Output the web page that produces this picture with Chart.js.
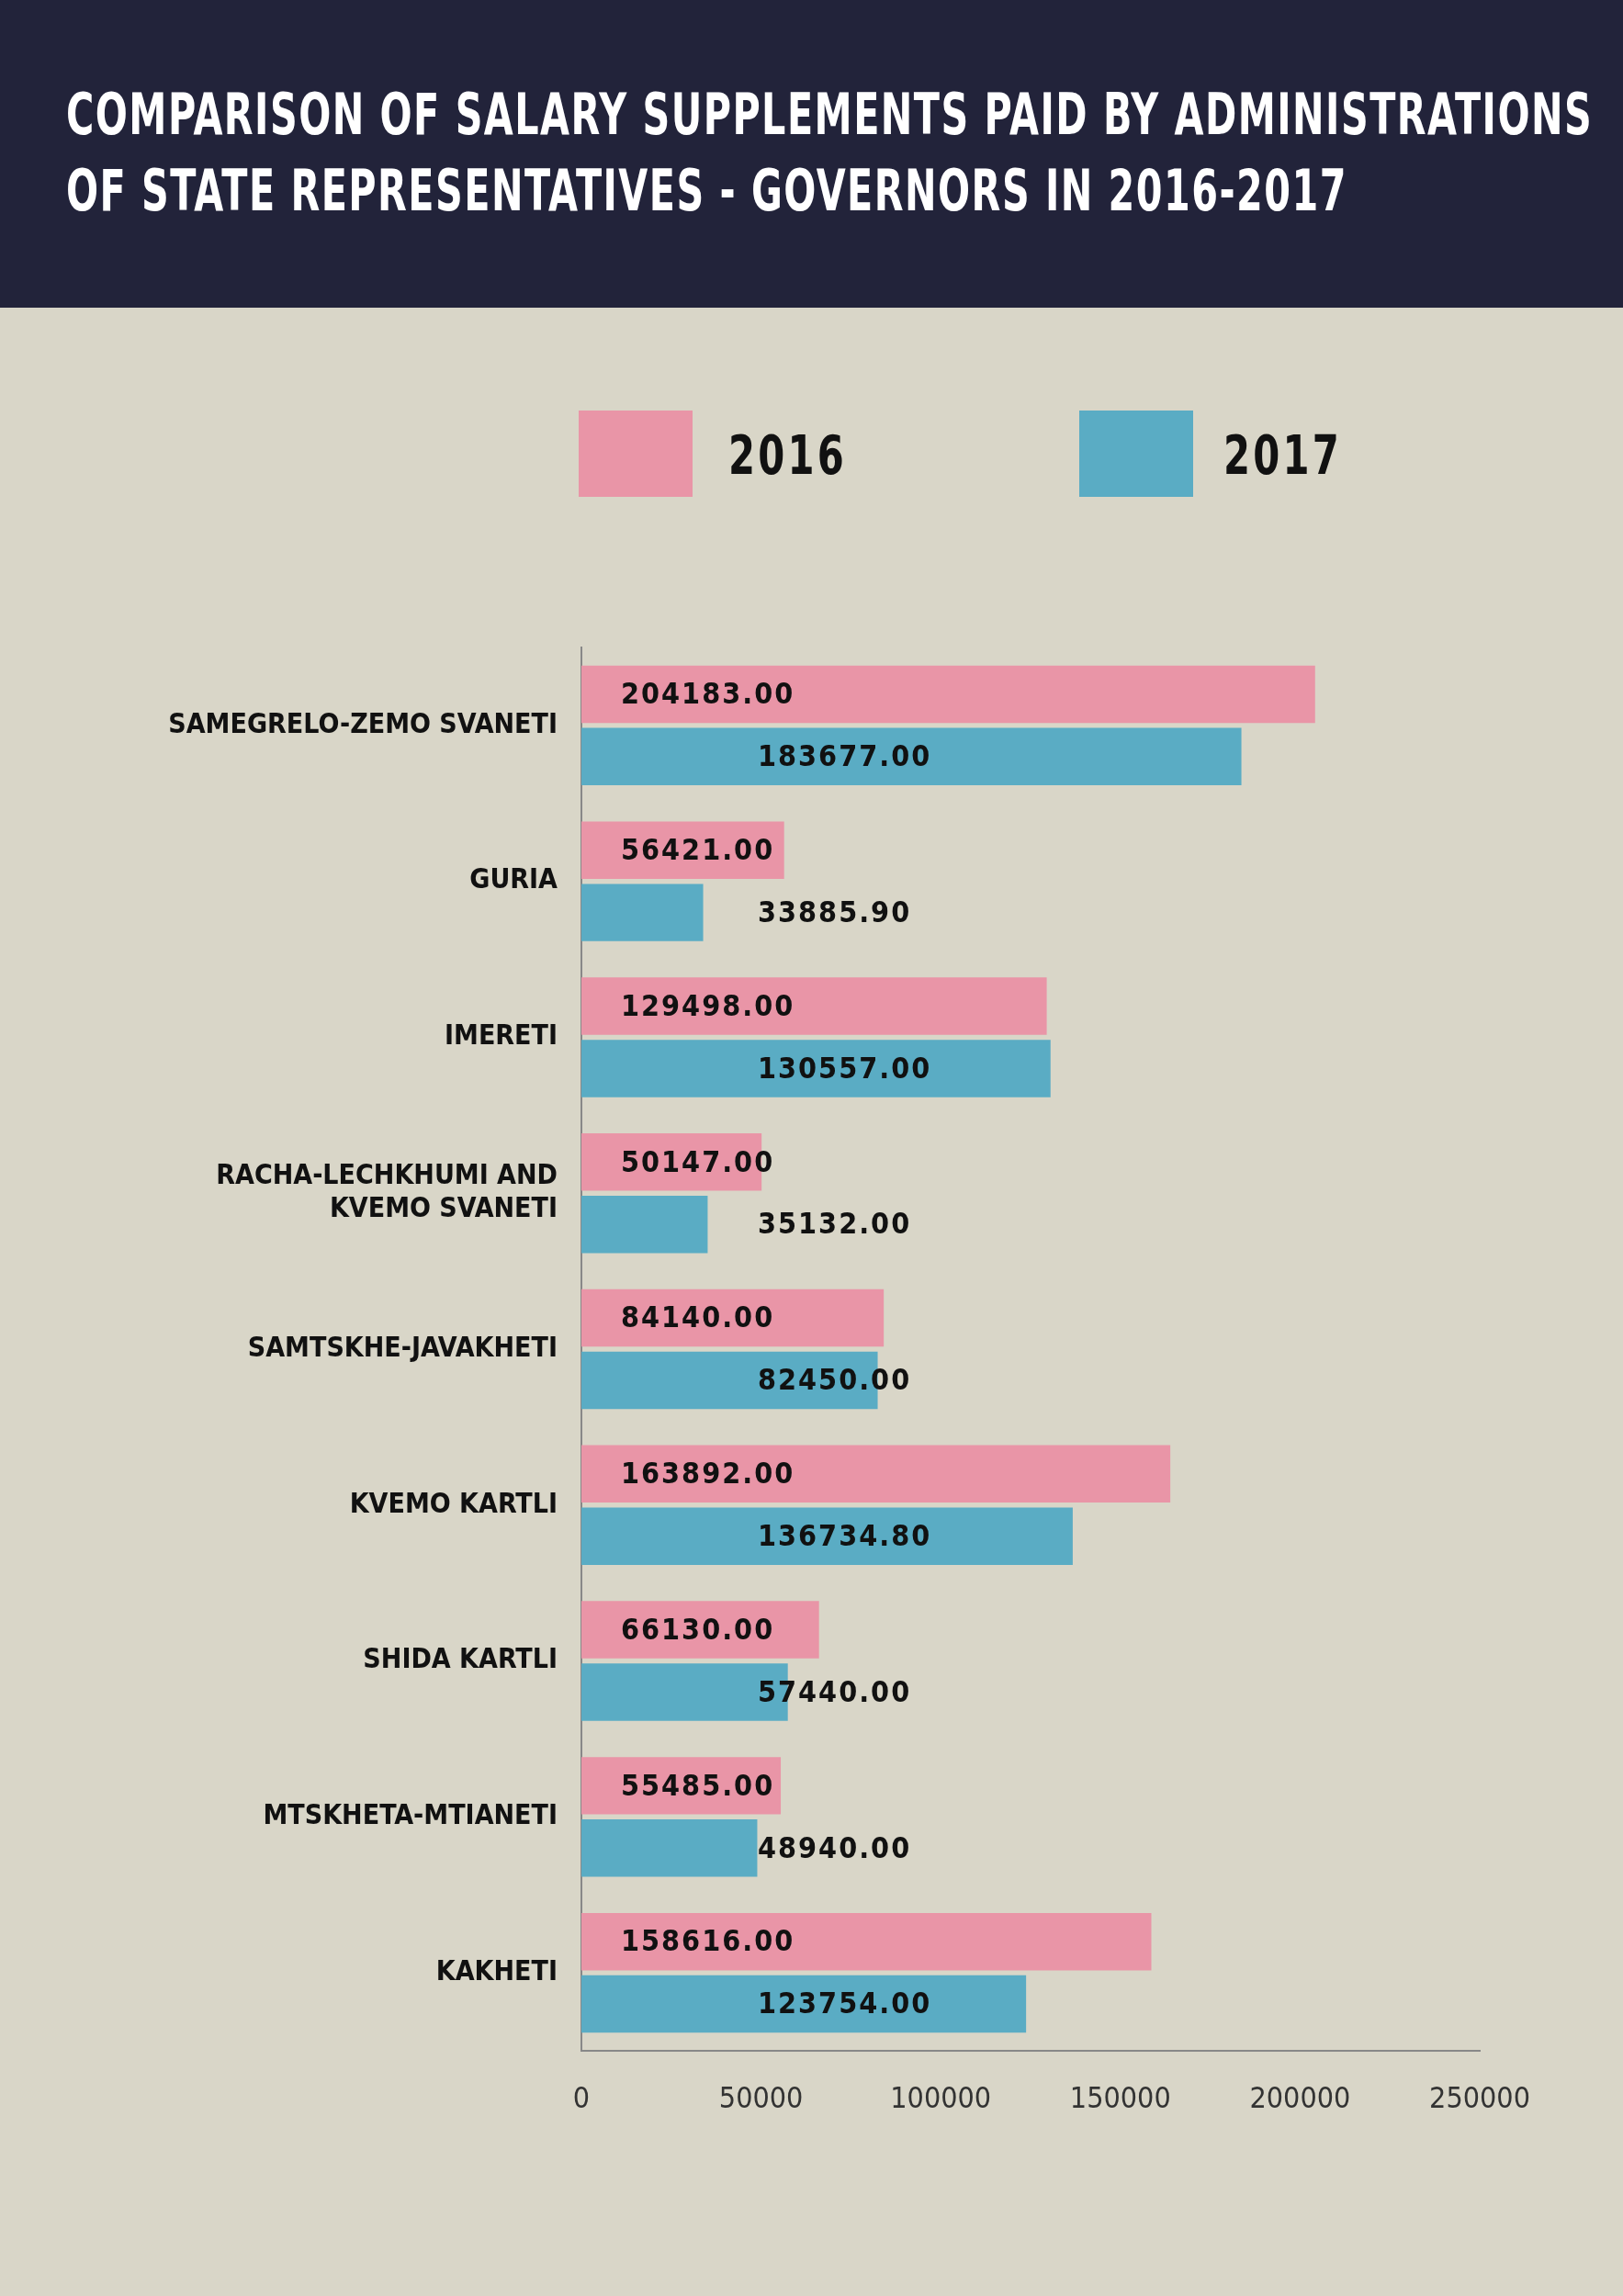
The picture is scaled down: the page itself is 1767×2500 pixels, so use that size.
<!DOCTYPE html>
<html><head><meta charset="utf-8">
<script src="https://cdn.jsdelivr.net/npm/chart.js@4/dist/chart.umd.min.js"></script>
<style>
html,body{margin:0;padding:0;width:1767px;height:2500px;background:#d9d6c8;overflow:hidden;font-family:"DejaVu Sans Condensed","DejaVu Sans",sans-serif}
#hdr{position:absolute;left:0;top:0;width:1767px;height:335px;background:#22233a}
#hdr div{position:absolute;left:72px;color:#fff;font-weight:bold;font-size:62px;letter-spacing:2px;white-space:nowrap;transform:scaleX(0.74);transform-origin:left top}
.lb{position:absolute;width:124px;height:94px;top:447px}
.lt{position:absolute;top:462px;font-weight:bold;font-size:58px;letter-spacing:4px;color:#111;transform:scaleX(0.8);transform-origin:left top}
#wrap{position:absolute;left:0;top:668px;width:1767px;height:1662px}
</style></head><body>
<div id="hdr"><div style="top:88px">COMPARISON OF SALARY SUPPLEMENTS PAID BY ADMINISTRATIONS</div><div style="top:171px">OF STATE REPRESENTATIVES - GOVERNORS IN 2016-2017</div></div>
<div class="lb" style="left:630px;background:#e995a7"></div><div class="lt" style="left:793px">2016</div>
<div class="lb" style="left:1175px;background:#5aacc4"></div><div class="lt" style="left:1332px">2017</div>
<div id="wrap"><canvas id="c"></canvas></div>
<script>
const categories=["SAMEGRELO-ZEMO SVANETI","GURIA","IMERETI",["RACHA-LECHKHUMI AND","KVEMO SVANETI"],"SAMTSKHE-JAVAKHETI","KVEMO KARTLI","SHIDA KARTLI","MTSKHETA-MTIANETI","KAKHETI"];
const values2016=[204183.00,56421.00,129498.00,50147.00,84140.00,163892.00,66130.00,55485.00,158616.00];
const values2017=[183677.00,33885.90,130557.00,35132.00,82450.00,136734.80,57440.00,48940.00,123754.00];
const xTicks=[0,50000,100000,150000,200000,250000];
const FONT='"DejaVu Sans Condensed"';
const labelPlugin={id:'lbl',afterDatasetsDraw(ch){
 const ctx=ch.ctx;ctx.save();
 ctx.font='bold 32px '+FONT;ctx.fillStyle='#111';ctx.textBaseline='middle';ctx.textAlign='left';
 if(ctx.letterSpacing!==undefined)ctx.letterSpacing='2px';
 [0,1].forEach(d=>{const m=ch.getDatasetMeta(d);const off=d===0?43:192;
  m.data.forEach((b,i)=>{const v=ch.data.datasets[d].data[i];ctx.fillText(v.toFixed(2),ch.chartArea.left+off,b.y+2);});});
 ctx.restore();}};
new Chart(document.getElementById('c'),{type:'bar',
 data:{labels:categories,datasets:[
  {label:'2016',data:values2016,backgroundColor:'#e995a7',categoryPercentage:0.8,barPercentage:0.92},
  {label:'2017',data:values2017,backgroundColor:'#5aacc4',categoryPercentage:0.8,barPercentage:0.92}]},
 options:{indexAxis:'y',responsive:true,maintainAspectRatio:false,animation:false,
  layout:{padding:{left:0,right:156,top:37,bottom:0}},
  plugins:{legend:{display:false},tooltip:{enabled:false}},
  scales:{
   y:{afterFit:s=>{s.width=633;},grid:{display:false},border:{display:true,color:'#888',width:2},
      ticks:{color:'#111',padding:18,font:{family:FONT,weight:'bold',size:30}}},
   x:{min:0,max:250000,afterBuildTicks:s=>{s.ticks=xTicks.map(v=>({value:v}));},afterFit:s=>{s.height=97;},
      grid:{display:false},border:{display:true,color:'#888',width:2},
      ticks:{color:'#333',padding:26,callback:v=>String(v),font:{family:FONT,size:32}}}
  }},
 plugins:[labelPlugin]});
</script></body></html>
